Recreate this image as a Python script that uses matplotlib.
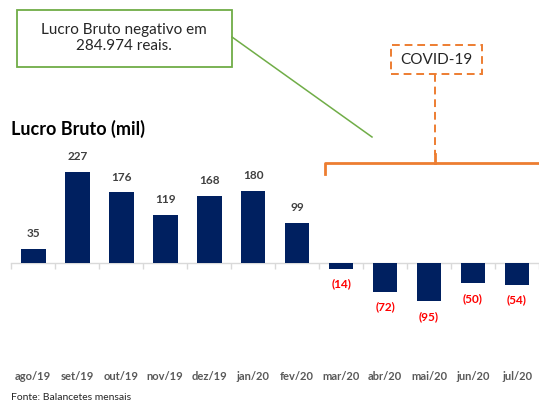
import numpy as np
import matplotlib
matplotlib.use("Agg")
import matplotlib.pyplot as plt
from matplotlib.patches import Rectangle
from matplotlib.lines import Line2D

months = ["ago/19", "set/19", "out/19", "nov/19", "dez/19", "jan/20",
          "fev/20", "mar/20", "abr/20", "mai/20", "jun/20", "jul/20"]
lucro = [35, 227, 176, 119, 168, 180, 99, -14, -72, -95, -50, -54]

NAVY = "#002060"
GREEN = "#70AD47"
ORANGE = "#ED7D31"
GREY = "#595959"

plt.rcParams["font.family"] = ["Lato", "DejaVu Sans"]

W, H = 539, 403
fig = plt.figure(figsize=(W / 100, H / 100), dpi=100)


def fx(px):
    return px / W


def fy(py):
    return 1 - py / H


# axes: left 11.3 px, right at edge; top 120 px, bottom 365 px
ax = fig.add_axes([fx(11.3), fy(365), 1 - fx(11.3), (365 - 120) / H])

x = np.arange(len(months))
ax.bar(x, lucro, width=0.56, color=NAVY, zorder=3)

ax.set_xlim(-0.5, 11.385)
ax.set_ylim(-254, 356)

for xi, v in zip(x, lucro):
    if v >= 0:
        ax.annotate(f"{v}", (xi, v), xytext=(0, 7), textcoords="offset points",
                    ha="center", va="bottom", fontsize=8.5, fontweight="bold",
                    color="#404040")
    else:
        ax.annotate(f"({-v})", (xi, v), xytext=(0, -7), textcoords="offset points",
                    ha="center", va="top", fontsize=8.5, fontweight="bold",
                    color="#FF0000")

for s in ["top", "right", "left"]:
    ax.spines[s].set_visible(False)
ax.spines["bottom"].set_position(("data", 0))
ax.spines["bottom"].set_color("#D9D9D9")
ax.spines["bottom"].set_linewidth(1.0)
ax.set_yticks([])
ax.set_xticks(np.arange(len(months) + 1) - 0.5)
ax.set_xticklabels([])
ax.tick_params(axis="x", length=4, color="#D9D9D9", width=1.0)

sec = ax.secondary_xaxis("bottom")
sec.set_xticks(x, labels=months)
sec.tick_params(length=0, pad=4, labelsize=8, labelcolor=GREY)
for lab in sec.get_xticklabels():
    lab.set_fontweight("bold")
sec.spines["bottom"].set_visible(False)

fig.text(fx(11), fy(129), "Lucro Bruto (mil)", fontsize=13, fontweight="bold",
         color="black", ha="left", va="center")
fig.text(fx(11), fy(397), "Fonte: Balancetes mensais", fontsize=7.5,
         color="#262626", ha="left", va="center")

# green callout
fig.patches.append(Rectangle((fx(16.5), fy(67)), fx(232 - 16.5), (67 - 10) / H,
                             transform=fig.transFigure, facecolor="white",
                             edgecolor=GREEN, linewidth=1.3))
fig.text(fx(124), fy(38), "Lucro Bruto negativo em\n284.974 reais.",
         fontsize=11, color="#262626", ha="center", va="center",
         linespacing=1.25)
fig.lines.append(Line2D([fx(232), fx(372)], [fy(37), fy(137)],
                        transform=fig.transFigure, color=GREEN, linewidth=1.1))

# COVID-19 box and bracket
fig.patches.append(Rectangle((fx(391), fy(74)), fx(482 - 391), (74 - 45) / H,
                             transform=fig.transFigure, facecolor="white",
                             edgecolor=ORANGE, linewidth=1.4, linestyle=(0, (4, 2.5))))
fig.text(fx(436.5), fy(59.5), "COVID-19", fontsize=11, color="#262626",
         ha="center", va="center")
fig.lines.append(Line2D([fx(435), fx(435)], [fy(74), fy(155)],
                        transform=fig.transFigure, color=ORANGE, linewidth=1.4,
                        linestyle=(0, (4, 2.5))))
fig.lines.append(Line2D([fx(325), fx(325), fx(545)], [fy(174), fy(163), fy(163)],
                        transform=fig.transFigure, color=ORANGE, linewidth=2.0,
                        solid_joinstyle="round"))
fig.lines.append(Line2D([fx(435), fx(435)], [fy(163), fy(154)],
                        transform=fig.transFigure, color=ORANGE, linewidth=2.0))

fig.savefig("out.png", dpi=100)
